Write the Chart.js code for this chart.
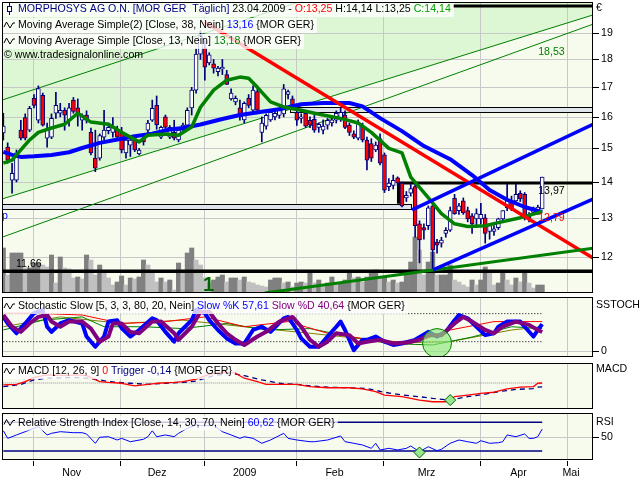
<!DOCTYPE html>
<html>
<head>
<meta charset="utf-8">
<title>MorphoSys</title>
<script src="https://cdn.jsdelivr.net/npm/chart.js@4.4.1/dist/chart.umd.min.js"></script>
<style>
  body { margin: 0; background: #fff; }
  #wrap { position: relative; width: 640px; height: 480px; overflow: hidden; background: #fff; }
  #wrap canvas { position: absolute; left: 0; }
</style>
</head>
<body>
<div id="wrap">
  <canvas id="main" width="640" height="296" style="top:0"></canvas>
  <canvas id="stoch" width="640" height="64" style="top:296px"></canvas>
  <canvas id="macd" width="640" height="52" style="top:360px"></canvas>
  <canvas id="rsi" width="640" height="68" style="top:412px"></canvas>
</div>
<script>
// trading day index 0 = 23.10.2008 ... 123 = 23.04.2009
const monthStarts = [7, 27, 46, 67, 87, 109, 129];
const monthLabels = ['Nov', 'Dez', '2009', 'Feb', 'Mrz', 'Apr', 'Mai'];
const priceTicks = [12, 13, 14, 15, 16, 17, 18, 19];

const opens = [15.48,15.04,14.05,14.05,15.57,15.98,15.57,16.62,15.89,16.72,
  15.32,15.35,16.12,16.12,16.22,15.89,16.56,16.30,15.89,16.06,
  15.50,14.70,14.70,15.35,15.55,15.50,15.57,15.48,14.86,15.10,
  15.26,14.83,15.32,15.57,15.89,16.38,15.35,16.00,15.35,15.50,
  15.26,15.57,15.73,16.30,16.90,18.20,18.43,17.87,17.84,17.55,
  17.65,17.45,16.60,16.50,16.30,15.90,16.62,16.22,16.85,15.50,
  15.70,15.90,16.00,16.05,16.10,16.75,16.60,16.15,15.95,16.12,
  15.89,15.92,15.66,15.57,15.73,15.80,15.89,15.95,16.06,15.73,
  15.45,15.32,15.70,15.26,15.15,14.95,15.30,14.80,13.87,13.90,
  14.12,13.97,13.55,13.68,13.87,12.85,12.75,12.80,13.33,12.38,
  12.35,12.60,12.68,13.54,13.20,13.47,13.20,13.06,12.98,12.98,
  13.01,12.65,12.65,12.75,12.98,13.28,13.42,13.47,13.68,13.65,
  13.06,13.15,13.20,13.25];
const highs = [16.12,15.17,14.55,14.95,15.89,16.10,16.35,16.75,17.05,16.80,
  15.80,16.10,16.83,16.45,16.30,16.45,16.65,16.60,16.10,16.20,
  15.64,15.57,15.45,16.22,15.80,15.98,15.70,15.66,15.35,15.40,
  15.35,15.00,15.40,15.89,16.56,16.70,15.70,16.06,15.72,15.89,
  15.66,15.80,16.30,17.00,18.40,19.10,18.70,18.25,18.00,17.75,
  18.00,17.60,16.95,16.70,16.56,16.50,16.75,17.05,16.95,16.00,
  16.10,16.25,16.20,16.30,17.10,16.90,16.70,16.25,16.10,16.20,
  16.00,16.05,15.80,15.90,15.95,16.00,16.20,16.30,16.20,15.80,
  15.55,15.90,15.80,15.35,15.30,15.20,15.45,14.86,14.10,14.20,
  14.15,14.00,13.73,13.93,13.93,12.93,12.85,13.33,13.40,12.45,
  12.50,12.75,13.30,13.65,13.40,13.55,13.30,13.12,13.25,13.40,
  13.10,12.85,12.80,13.00,13.20,13.93,13.60,13.93,13.75,13.70,
  13.15,13.30,13.35,14.14];
const lows = [15.26,14.55,13.68,14.00,15.26,15.26,15.52,16.30,15.80,15.70,
  15.04,15.30,15.95,16.00,15.57,15.70,16.12,15.70,15.57,15.80,
  14.80,14.30,14.64,15.26,15.45,15.35,15.30,14.86,14.70,14.75,
  14.90,14.80,15.10,15.48,15.85,15.60,15.30,15.62,15.30,15.26,
  15.20,15.50,15.66,16.06,16.80,18.00,17.25,17.80,17.50,17.40,
  17.45,17.10,16.56,16.40,15.89,15.80,16.30,16.15,16.10,15.20,
  15.60,15.85,15.90,15.95,16.00,16.60,16.30,15.72,15.80,15.66,
  15.65,15.50,15.50,15.45,15.60,15.70,15.80,15.85,15.62,15.40,
  15.30,15.26,15.20,14.35,14.60,14.90,14.50,13.70,13.75,13.80,
  13.90,13.30,13.45,13.60,12.50,11.86,12.45,12.70,11.69,12.10,
  12.25,12.50,12.65,13.10,13.10,13.10,12.90,12.60,12.75,12.85,
  12.35,12.45,12.55,12.70,12.90,13.20,13.20,13.40,13.45,12.95,
  12.90,13.10,13.10,13.25];
const closes = [15.70,14.64,14.25,14.86,15.32,15.32,16.28,16.38,16.96,15.73,
  15.57,15.95,16.38,16.22,16.06,16.30,16.18,16.12,16.06,15.89,
  14.86,14.40,15.40,15.57,15.66,15.68,15.35,14.95,15.26,15.26,
  14.95,14.95,15.20,15.80,16.28,15.75,15.66,15.66,15.66,15.32,
  15.57,15.73,16.22,16.90,18.20,18.90,17.72,18.17,17.68,17.68,
  17.72,17.10,16.80,16.62,16.00,16.45,16.38,16.90,16.22,15.80,
  16.05,16.15,16.12,16.25,16.95,16.85,16.38,15.89,16.00,15.70,
  15.73,15.57,15.76,15.70,15.89,15.90,16.12,16.15,15.66,15.50,
  15.35,15.80,15.26,14.64,14.70,15.10,14.55,13.77,13.97,14.05,
  13.97,13.33,13.62,13.81,12.80,12.43,12.68,13.28,12.18,12.30,
  12.43,12.68,13.20,13.12,13.33,13.14,12.98,12.85,13.12,13.10,
  12.60,12.80,12.72,12.98,13.20,13.47,13.25,13.65,13.52,13.06,
  13.00,13.28,13.30,14.14];
// volume, thousand shares
const volumes = [45,18,40,40,40,25,25,30,30,28, 26,38,10,36,25,24,15,16,14,38,
  33,18,28,20,15,8,11,17,8,15, 14,16,33,28,20,11,15,11,13,3,
  30,23,40,45,33,28,15,10,13,16, 18,11,15,15,13,16,11,10,8,7,
  6,13,15,15,10,11,6,10,11,10, 21,10,13,8,10,16,10,10,13,21,
  15,16,11,16,21,23,15,16,11,13, 10,11,20,31,56,43,18,31,41,18,
  18,18,28,13,11,8,6,13,8,13, 26,20,8,10,21,13,8,15,11,21, 10,5,8,8];

// [day index, value]
const sma38 = [[0,14.89],[2,14.80],[4,14.74],[7,14.76],[11,14.80],[15,14.88],[18,15.01],[22,15.17],[27,15.30],[30,15.38],
  [34,15.46],[38,15.59],[41,15.64],[45,15.75],[50,15.93],[54,16.06],[59,16.17],[63,16.25],[68,16.42],[73,16.46],
  [79,16.46],[82,16.35],[86,15.96],[91,15.54],[96,15.07],[102,14.67],[107,14.20],[111,13.77],[115,13.50],[119,13.30],[123,13.16]];
const sma13 = [[0,14.55],[2,14.64],[4,14.95],[6,15.26],[8,15.50],[11,15.64],[14,15.76],[17,16.12],[20,15.83],[24,15.76],
  [27,15.50],[31,15.20],[33,15.41],[37,15.45],[40,15.41],[43,15.67],[45,16.32],[48,16.90],[51,17.25],[54,17.36],
  [56,17.32],[58,17.00],[61,16.50],[64,16.33],[68,16.22],[71,16.12],[73,16.06],[77,15.95],[81,15.80],[84,15.50],
  [88,15.00],[91,14.86],[93,14.14],[97,13.56],[100,13.12],[103,12.85],[106,12.78],[110,12.80],[113,12.88],[118,13.01],[122,13.14],[123,13.18]];

const channelUpper = [[-0.3,16.56],[67.5,20.25]];
const channelMiddle = [[-0.3,13.52],[134.6,19.72]];
const channelLower = [[-0.3,12.50],[134.6,19.35]];
const redTrend = [[46,19.43],[134.6,11.98]];
const blueUpper = [[93.3,13.22],[134.6,15.76]];
const blueLower = [[98.1,11.69],[134.6,13.52]];
const greenTrend = [[59.7,11.15],[134.6,12.22]];
const supportLevel = 11.66;
const resistanceLevel = 13.97;
const topLevel = 20.08;
// [from day, to day, low, high]
const zones = [[65.5,134.6,16.16,16.34],[-0.3,93.3,13.25,13.39]];

const stochK = [[0,73],[1,59],[3,38],[5,59],[7,81],[9,88],[10,52],[11,41],[13,59],[15,66],[18,59],[19,31],[21,9],[23,31],[24,63],
  [26,66],[27,49],[29,31],[31,45],[34,70],[35,66],[37,41],[39,20],[40,38],[43,66],[44,88],[46,81],[47,66],[49,45],[51,27],
  [53,16],[55,16],[57,45],[59,52],[61,41],[64,70],[65,73],[67,45],[68,27],[70,9],[72,9],[74,31],[76,52],[77,63],[78,45],
  [80,2],[82,24],[83,24],[85,31],[87,20],[89,13],[91,16],[94,24],[97,41],[99,31],[101,41],[103,66],[104,77],[106,70],[108,52],
  [110,34],[112,38],[113,52],[115,63],[118,63],[119,52],[121,31],[122,45],[123,57.61]];
const stochD = [[0,77],[2,52],[4,41],[6,59],[8,73],[10,77],[11,63],[13,52],[15,63],[18,63],[20,48],[22,20],[24,31],[25,59],[27,59],
  [29,41],[31,38],[34,63],[36,63],[39,38],[40,24],[43,52],[45,84],[47,84],[49,59],[51,38],[53,24],[55,13],[58,31],[60,41],
  [63,63],[66,73],[68,52],[70,24],[72,9],[74,20],[76,38],[79,34],[81,16],[83,20],[86,24],[89,16],[92,18],[95,24],[97,34],
  [100,34],[103,59],[105,73],[107,63],[110,45],[112,38],[114,52],[117,63],[120,56],[122,45],[123,40.64]];
const stochRed = [[0,81],[7,81],[18,77],[27,59],[37,63],[46,73],[55,52],[65,63],[74,38],[84,24],[93,16],[102,45],[112,63],[123,63]];
const stochGreen = [[0,45],[9,66],[18,73],[23,52],[32,52],[41,48],[51,59],[60,45],[70,48],[79,31],[88,16],[98,13],[107,30],[116,52],[123,48]];
const stochOlive = [[0,52],[13,73],[27,59],[41,66],[55,52],[70,38],[84,24],[93,18],[102,20],[116,45],[123,52]];
const stochSignal = [[99,17]];

const macd = [[0,-0.07],[3,-0.05],[5,0.05],[7,0.19],[9,0.26],[11,0.29],[14,0.26],[17,0.29],[19,0.26],[22,0.05],[24,0.02],
  [27,-0.01],[30,-0.10],[32,-0.07],[35,-0.01],[39,0.02],[41,0.05],[44,0.14],[47,0.31],[50,0.40],[53,0.35],[55,0.17],[58,0.05],
  [60,-0.05],[63,-0.05],[67,-0.05],[70,-0.13],[74,-0.17],[79,-0.17],[82,-0.21],[85,-0.31],[87,-0.43],[91,-0.49],[95,-0.61],
  [98,-0.67],[101,-0.67],[103,-0.49],[106,-0.43],[109,-0.37],[112,-0.33],[115,-0.21],[118,-0.15],[121,-0.13],[122,-0.01],[123,0.0]];
const trigger = [[0,-0.13],[4,-0.05],[7,0.11],[10,0.17],[14,0.19],[18,0.19],[22,0.11],[24,0.05],[29,-0.01],[33,-0.05],[37,-0.01],
  [41,0.02],[44,0.07],[48,0.26],[52,0.35],[55,0.26],[59,0.11],[63,-0.01],[67,-0.05],[70,-0.10],[74,-0.15],[79,-0.17],[83,-0.20],
  [87,-0.33],[91,-0.43],[95,-0.49],[98,-0.55],[102,-0.61],[106,-0.49],[110,-0.40],[113,-0.31],[117,-0.23],[121,-0.20],[122,-0.15],[123,-0.14]];
const macdSignal = [[102,-0.61]];

const rsi = [[0,58.4],[1,47.7],[3,52.4],[5,57],[7,61.7],[8,64],[10,52.4],[11,54.7],[13,57],[16,55.6],[18,55.6],[19,53.8],[21,40.8],
  [22,49.2],[24,50],[26,45.4],[27,47.7],[29,43],[32,46.4],[33,50],[34,58.4],[35,50],[37,52.4],[39,50],[40,54.7],[42,61.7],
  [44,66.3],[46,64.9],[48,66.3],[50,57],[52,52.4],[54,47.7],[55,50],[57,47.7],[59,40.8],[61,45.4],[64,54.7],[65,47.7],[67,45.4],
  [70,43],[71,43],[74,45.4],[77,51],[78,43],[80,40.8],[82,38.4],[84,33.8],[85,40.8],[86,31.5],[88,33.8],[90,31.5],[92,33.8],
  [93,37],[95,29.1],[97,36],[99,30.5],[100,32.4],[102,40.8],[104,45.4],[106,43],[108,40.8],[109,44.4],[111,40.8],[113,41.6],
  [114,43],[115,52.4],[117,50],[119,53.8],[120,47.7],[121,47.7],[122,50],[123,60.62]];
const rsiSignal = [[95,28]];

const X_MIN = -0.3, X_MAX = 134.6;
const LAST = closes.length - 1;
const FONT = "10.6px 'Liberation Sans', Arial, sans-serif";
const NAVY = '#00007a';
const GRID = '#c8c8c8';
const PLOT_BG = '#f6fbee';

const pts = arr => arr.map(([x, y]) => ({ x, y }));
const flat = (x0, x1, v) => [{ x: x0, y: v }, { x: x1, y: v }];

function line(data, color, width, order, extra) {
  return Object.assign({ type: 'line', data, borderColor: color, borderWidth: width, pointRadius: 0,
    fill: false, order, borderJoinStyle: 'round' }, extra || {});
}
function marker(data, style, r, fillC, strokeC, order) {
  return { type: 'line', data: pts(data), showLine: false, pointStyle: style, pointRadius: r,
    pointBackgroundColor: fillC, pointBorderColor: strokeC, pointBorderWidth: 1, order };
}

function legendRow(ctx, y, parts, icon) {
  ctx.font = FONT;
  let w = 0;
  for (const p of parts) w += ctx.measureText(p[0]).width;
  ctx.fillStyle = 'rgba(255,255,255,0.78)';
  ctx.fillRect(2, y - 7, 19 + w, 15);
  ctx.lineWidth = 1;
  if (icon === 'candle') {
    ctx.strokeStyle = NAVY;
    ctx.beginPath(); ctx.moveTo(9.5, y - 6); ctx.lineTo(9.5, y + 6); ctx.stroke();
    ctx.fillStyle = '#fff'; ctx.fillRect(7, y - 3, 5, 6);
    ctx.strokeRect(7.5, y - 2.5, 4, 5);
  } else if (icon === 'wave') {
    ctx.strokeStyle = '#000';
    ctx.beginPath();
    ctx.moveTo(4, y + 2); ctx.lineTo(6.5, y - 3); ctx.lineTo(10, y + 3); ctx.lineTo(13, y - 2); ctx.lineTo(15, y - 2);
    ctx.stroke();
  }
  let x = 18;
  ctx.textBaseline = 'middle'; ctx.textAlign = 'left';
  for (const [t, c] of parts) { ctx.fillStyle = c; ctx.fillText(t, x, y + 0.5); x += ctx.measureText(t).width; }
}

function panelPlugin(cfg) {
  return {
    id: 'panel_' + cfg.name,
    beforeDatasetsDraw(chart) {
      const { ctx, chartArea: a, scales } = chart;
      ctx.save();
      ctx.fillStyle = PLOT_BG;
      ctx.fillRect(a.left, a.top, a.right - a.left, a.bottom - a.top);
      if (cfg.under) cfg.under(chart, ctx, a);
      ctx.strokeStyle = GRID; ctx.lineWidth = 1;
      ctx.beginPath();
      monthStarts.forEach(m => {
        const x = Math.round(scales.x.getPixelForValue(m - 0.3)) + 0.5;
        if (x > a.left && x < a.right) { ctx.moveTo(x, a.top); ctx.lineTo(x, a.bottom); }
      });
      (cfg.hGrid || []).forEach(v => {
        const y = Math.round(scales.y.getPixelForValue(v)) + 0.5;
        ctx.moveTo(a.left, y); ctx.lineTo(a.right, y);
      });
      ctx.stroke();
      if (cfg.mid) cfg.mid(chart, ctx, a);
      ctx.restore();
    },
    afterDatasetsDraw(chart) {
      const { ctx, chartArea: a, scales } = chart;
      ctx.save();
      if (cfg.over) cfg.over(chart, ctx, a);
      ctx.strokeStyle = '#000'; ctx.lineWidth = 1;
      ctx.strokeRect(a.left + 0.5, a.top + 0.5, a.right - a.left - 1, a.bottom - a.top - 1);
      // right axis
      ctx.font = FONT; ctx.fillStyle = '#000'; ctx.textAlign = 'left'; ctx.textBaseline = 'middle';
      ctx.beginPath();
      (cfg.ticks || []).forEach(v => {
        const y = Math.round(scales.y.getPixelForValue(v)) + 0.5;
        ctx.moveTo(a.right, y); ctx.lineTo(a.right + 6, y);
        ctx.fillText(String(v), a.right + 8, y);
      });
      ctx.stroke();
      if (cfg.title) ctx.fillText(cfg.title[0], a.right + 3, cfg.title[1]);
      if (cfg.bottomAxis) {
        ctx.beginPath();
        monthStarts.forEach(m => {
          const x = Math.round(scales.x.getPixelForValue(m - 0.3)) + 0.5;
          ctx.moveTo(x, a.bottom + 1); ctx.lineTo(x, a.bottom + 6);
        });
        ctx.stroke();
        ctx.textAlign = 'center';
        monthLabels.forEach((lab, k) => {
          const m = monthStarts[k];
          const next = k + 1 < monthStarts.length ? monthStarts[k + 1] : m + 21;
          const cx = Math.min(scales.x.getPixelForValue((m + next) / 2 - 1.4), a.right - 22);
          ctx.fillText(lab, cx, a.bottom + 13.5);
        });
      }
      ctx.restore();
    }
  };
}

function options(pad, yScales) {
  return {
    responsive: false, animation: false, events: [], devicePixelRatio: 1,
    layout: { padding: pad, autoPadding: false },
    plugins: { legend: { display: false }, tooltip: { enabled: false } },
    scales: Object.assign({ x: { type: 'linear', min: X_MIN, max: X_MAX, offset: false, display: false } }, yScales)
  };
}

// ---------- main price panel ----------
const wicks = lows.map((l, i) => ({ x: i, y: [l, highs[i]] }));
const bodies = opens.map((o, i) => ({ x: i, y: [o, closes[i]] }));

new Chart(document.getElementById('main'), {
  type: 'line',
  data: { datasets: [
    line(pts(channelUpper), '#008000', 1, 20),
    line(pts(channelMiddle), '#008000', 1, 20),
    line(pts(channelLower), '#008000', 1, 20),
    { type: 'bar', yAxisID: 'yv', data: volumes.map((v, i) => ({ x: i, y: v })),
      backgroundColor: c => (c.dataIndex > 0 && volumes[c.dataIndex] < volumes[c.dataIndex - 1]) ? '#c0c0c0' : '#808080',
      barPercentage: 1, categoryPercentage: 1, grouped: false, order: 18 },
    line(flat(X_MIN, X_MAX, supportLevel), '#000', 3.5, 16),
    line([{ x: 90.2, y: zones[1][3] }, { x: 90.2, y: resistanceLevel }, { x: X_MAX, y: resistanceLevel }], '#000', 3, 16, { borderJoinStyle: 'miter' }),
    line(flat(102.7, X_MAX, topLevel), '#000', 3, 16),
    { type: 'bar', data: wicks, backgroundColor: NAVY, barThickness: 1, grouped: false, order: 14 },
    { type: 'bar', data: bodies, barThickness: 4, borderWidth: 1, borderColor: NAVY, borderSkipped: false, grouped: false, order: 13,
      backgroundColor: c => closes[c.dataIndex] < opens[c.dataIndex] ? '#ff0000' : '#ffffff' },
    line(pts(sma38), '#0000ff', 4, 8),
    line(pts(sma13), '#008000', 3.5, 7),
    line(pts(redTrend), '#ff0000', 3.5, 5),
    line(pts(blueUpper), '#0000ff', 3.5, 4),
    line(pts(blueLower), '#0000ff', 3.5, 4),
    line(pts(greenTrend), '#008000', 3, 4)
  ] },
  options: options({ left: 2, right: 47, top: 2, bottom: 3 }, {
    y: { type: 'logarithmic', min: 11.15, max: 20.25, display: false },
    yv: { type: 'linear', min: 0, max: 291, display: false }
  }),
  plugins: [panelPlugin({
    name: 'main', hGrid: priceTicks, ticks: priceTicks, title: ['€', 8.5],
    under(chart, ctx, a) {
      const xs = chart.scales.x, ys = chart.scales.y;
      ctx.fillStyle = '#ddf6d3';
      ctx.beginPath();
      ctx.moveTo(xs.getPixelForValue(channelMiddle[0][0]), ys.getPixelForValue(channelMiddle[0][1]));
      ctx.lineTo(xs.getPixelForValue(channelMiddle[1][0]), ys.getPixelForValue(channelMiddle[1][1]));
      ctx.lineTo(a.right, a.top); ctx.lineTo(a.left, a.top); ctx.closePath(); ctx.fill();
    },
    mid(chart, ctx) {
      const xs = chart.scales.x, ys = chart.scales.y;
      zones.forEach(([x0, x1, lo, hi]) => {
        const l = Math.round(xs.getPixelForValue(x0)), r = Math.round(xs.getPixelForValue(x1));
        const t = Math.round(ys.getPixelForValue(hi)), b = Math.round(ys.getPixelForValue(lo));
        ctx.fillStyle = '#dfe3ec'; ctx.fillRect(l, t, r - l, b - t);
        ctx.strokeStyle = '#000'; ctx.strokeRect(l + 0.5, t + 0.5, r - l - 1, b - t);
      });
    },
    over(chart, ctx) {
      const xs = chart.scales.x, ys = chart.scales.y;
      legendRow(ctx, 9, [['MORPHOSYS AG O.N. [MOR GER  Täglich]', '#000080'], [' 23.04.2009 - ', '#000'],
        ['O:13,25', '#ff0000'], [' H:14,14 L:13,25 ', '#000'], ['C:14,14', '#00a000']], 'candle');
      legendRow(ctx, 25, [['Moving Average Simple(2) [Close, 38, Nein] ', '#000'], ['13,16', '#0000ff'], [' {MOR GER}', '#000']], 'wave');
      legendRow(ctx, 41, [['Moving Average Simple [Close, 13, Nein] ', '#000'], ['13,18', '#008000'], [' {MOR GER}', '#000']], 'wave');
      ctx.font = FONT; ctx.textBaseline = 'middle'; ctx.textAlign = 'left';
      ctx.fillStyle = '#000';
      ctx.fillText('© www.tradesignalonline.com', 4, 55.5);
      const xe = xs.getPixelForValue(LAST) - 4;
      ctx.fillText('11,66', 16, ys.getPixelForValue(supportLevel) - 7);
      ctx.fillText('13,97', xe, ys.getPixelForValue(resistanceLevel) + 8);
      ctx.fillStyle = '#ff0000';
      ctx.fillText('12,79', xe, ys.getPixelForValue(12.79) - 8.5);
      ctx.fillStyle = '#008000';
      ctx.fillText('18,53', xe, ys.getPixelForValue(18.53) + 7);
      ctx.fillStyle = '#0000ff';
      ctx.fillText('p', 2, 216);
      ctx.fillStyle = '#006400';
      ctx.font = "bold 20px 'Liberation Sans', Arial, sans-serif";
      ctx.fillText('1', 203, 285);
    }
  })]
});

// ---------- stochastic panel ----------
new Chart(document.getElementById('stoch'), {
  type: 'line',
  data: { datasets: [
    line(flat(0, LAST, 80), '#000', 1, 20, { borderDash: [1, 2] }),
    line(flat(0, LAST, 20), '#000', 1, 20, { borderDash: [1, 2] }),
    line(pts(stochOlive), '#808000', 1, 12),
    line(pts(stochGreen), '#008000', 1, 11),
    line(pts(stochRed), '#ff0000', 1, 10),
    line(pts(stochK), '#0000ff', 4, 6),
    line(pts(stochD), '#800080', 4, 5),
    marker(stochSignal, 'circle', 14.5, 'rgba(140,230,120,0.65)', '#008000', 1)
  ] },
  options: options({ left: 2, right: 47, top: 1, bottom: 3 }, {
    y: { type: 'linear', min: -12.8, max: 115.6, display: false }
  }),
  plugins: [panelPlugin({
    name: 'stoch', hGrid: [0], ticks: [0], title: ['SSTOCH', 9],
    over(chart, ctx) {
      legendRow(ctx, 10, [['Stochastic Slow [5, 3, 3, 80, 20, Nein] ', '#000'], ['Slow %K 57,61', '#0000ff'],
        [' Slow %D 40,64', '#800080'], [' {MOR GER}', '#000']], 'wave');
    }
  })]
});

// ---------- MACD panel ----------
new Chart(document.getElementById('macd'), {
  type: 'line',
  data: { datasets: [
    line(flat(0, LAST, 0), '#909090', 1, 20, { borderDash: [1, 1] }),
    line(pts(trigger), '#000080', 1.3, 6, { borderDash: [5, 4] }),
    line(pts(macd), '#ff0000', 1.3, 5),
    marker(macdSignal, 'rectRot', 5.5, '#98e890', '#006000', 1)
  ] },
  options: options({ left: 2, right: 47, top: 3, bottom: 3 }, {
    y: { type: 'linear', min: -0.929, max: 0.714, display: false }
  }),
  plugins: [panelPlugin({
    name: 'macd', hGrid: [], ticks: [], title: ['MACD', 9.5],
    over(chart, ctx) {
      legendRow(ctx, 11, [['MACD [12, 26, 9] ', '#000'], ['0', '#ff0000'], [' Trigger -0,14', '#000080'], [' {MOR GER}', '#000']], 'wave');
    }
  })]
});

// ---------- RSI panel ----------
new Chart(document.getElementById('rsi'), {
  type: 'line',
  data: { datasets: [
    line(flat(0, LAST, 70), '#000080', 1.5, 10),
    line(flat(0, LAST, 30), '#000080', 1.5, 10),
    line(pts(rsi), '#0000ff', 1, 5),
    marker(rsiSignal, 'rectRot', 5.5, '#98e890', '#006000', 1)
  ] },
  options: options({ left: 2, right: 47, top: 1, bottom: 20 }, {
    y: { type: 'linear', min: 17.5, max: 83.05, display: false }
  }),
  plugins: [panelPlugin({
    name: 'rsi', hGrid: [50], ticks: [50], title: ['RSI', 10], bottomAxis: true,
    over(chart, ctx) {
      legendRow(ctx, 10.5, [['Relative Strength Index [Close, 14, 30, 70, Nein] ', '#000'], ['60,62', '#0000ff'], [' {MOR GER}', '#000']], 'wave');
    }
  })]
});
</script>
</body>
</html>
